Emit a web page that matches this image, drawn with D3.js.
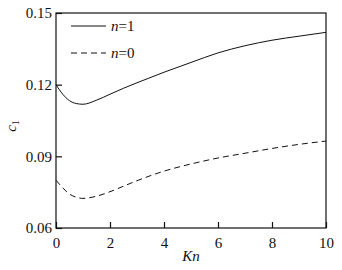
<!DOCTYPE html>
<html>
<head>
<meta charset="utf-8">
<script src="https://cdn.jsdelivr.net/npm/d3@7.9.0/dist/d3.min.js"></script>
<style>
  body { margin: 0; background: #fff; }
  svg { display: block; }
</style>
</head>
<body>
<svg width="342" height="270" font-family="Liberation Serif"></svg>
<script>
// Kn values and the two c1 curves
const kn = [0, 0.25, 0.5, 0.75, 1, 1.5, 2, 2.5, 3, 4, 5, 6, 7, 8, 9, 10];
const cN1 = [0.1200, 0.1160, 0.1133, 0.1121, 0.1118, 0.1135, 0.1160, 0.1185, 0.1208, 0.1252, 0.1293, 0.1333, 0.1363, 0.1386, 0.1403, 0.1419];
const cN0 = [0.0800, 0.0768, 0.0742, 0.0729, 0.0724, 0.0733, 0.0752, 0.0775, 0.0798, 0.0838, 0.0868, 0.0893, 0.0913, 0.0933, 0.0950, 0.0964];
const xTicks = [0, 2, 4, 6, 8, 10];
const yTicks = [0.06, 0.09, 0.12, 0.15];
const legendLabels = ["1", "0"];

const FONT = "Liberation Serif";
const margin = { left: 56, top: 13, right: 16, bottom: 42 };
const width = 342, height = 270;

const svg = d3.select("svg");

// scales
const x = d3.scaleLinear().domain([0, 10]).range([margin.left, width - margin.right]);
const y = d3.scaleLinear().domain([0.06, 0.15]).range([height - margin.bottom, margin.top]);

// frame
svg.append("rect")
  .attr("x", x(0)).attr("y", y(0.15))
  .attr("width", x(10) - x(0)).attr("height", y(0.06) - y(0.15))
  .attr("fill", "none").attr("stroke", "#111").attr("stroke-width", 1.2);

// bottom axis, ticks pointing inward
const xAxis = svg.append("g")
  .attr("transform", `translate(0,${y(0.06)})`)
  .call(d3.axisBottom(x).tickValues(xTicks).tickSizeInner(-6).tickSizeOuter(0).tickPadding(9).tickFormat(d3.format("d")));
xAxis.attr("font-family", FONT).attr("font-size", 15);
xAxis.select(".domain").remove();
xAxis.selectAll("line").attr("stroke", "#111").attr("stroke-width", 1.2);
xAxis.selectAll("text").attr("fill", "#111");

// left axis
const yAxis = svg.append("g")
  .attr("transform", `translate(${x(0)},0)`)
  .call(d3.axisLeft(y).tickValues(yTicks).tickSizeInner(-6).tickSizeOuter(0).tickPadding(4).tickFormat(d3.format(".2f")));
yAxis.attr("font-family", FONT).attr("font-size", 15);
yAxis.select(".domain").remove();
yAxis.selectAll("line").attr("stroke", "#111").attr("stroke-width", 1.2);
yAxis.selectAll("text").attr("fill", "#111");

// curves
const line = d3.line()
  .x((d) => x(d[0]))
  .y((d) => y(d[1]))
  .curve(d3.curveMonotoneX);

svg.append("path")
  .datum(kn.map((k, i) => [k, cN1[i]]))
  .attr("d", line)
  .attr("fill", "none").attr("stroke", "#111").attr("stroke-width", 1);

svg.append("path")
  .datum(kn.map((k, i) => [k, cN0[i]]))
  .attr("d", line)
  .attr("fill", "none").attr("stroke", "#111").attr("stroke-width", 1)
  .attr("stroke-dasharray", "6,4");

// legend
legendLabels.forEach((lab, i) => {
  const ly = 26 + i * 27;
  svg.append("line")
    .attr("x1", 71).attr("x2", 106).attr("y1", ly).attr("y2", ly)
    .attr("stroke", "#111").attr("stroke-width", 1)
    .attr("stroke-dasharray", i === 0 ? null : "6,4");
  const t = svg.append("text").attr("x", 111).attr("y", ly + 4.5)
    .attr("font-size", 15).attr("fill", "#111").attr("font-family", FONT);
  t.append("tspan").attr("font-style", "italic").text("n");
  t.append("tspan").text("=" + lab);
});

// axis labels
svg.append("text")
  .attr("x", 191).attr("y", 261)
  .attr("text-anchor", "middle").attr("font-size", 15).attr("font-style", "italic")
  .attr("fill", "#111").attr("font-family", FONT)
  .text("Kn");

const yl = svg.append("text")
  .attr("transform", "translate(16,126) rotate(-90)")
  .attr("text-anchor", "middle").attr("font-size", 15)
  .attr("fill", "#111").attr("font-family", FONT);
yl.append("tspan").attr("font-style", "italic").text("c");
yl.append("tspan").attr("font-size", 10).attr("dy", 3).text("1");
</script>
</body>
</html>
